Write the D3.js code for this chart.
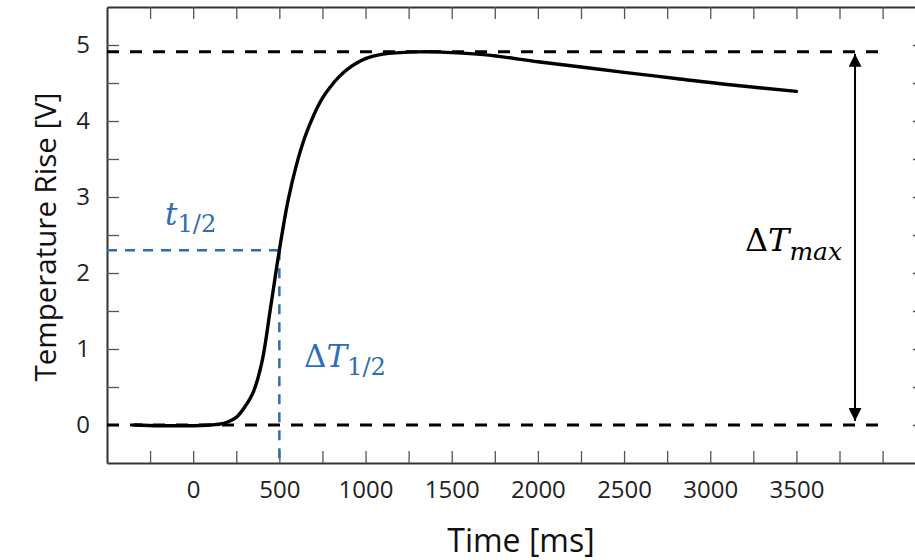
<!DOCTYPE html>
<html>
<head>
<meta charset="utf-8">
<script src="https://cdn.jsdelivr.net/npm/d3@7"></script>
<style>
  html, body { margin: 0; padding: 0; background: #fff; }
  svg { display: block; }
</style>
</head>
<body>
<svg id="chart" width="915" height="560"></svg>
<script>
// ---- data ----
const timeMs = [-340, -200, -100, 0, 100, 150, 200, 250, 300, 350, 400, 450, 500, 550, 600, 650, 700, 750, 800, 850, 900, 1000, 1100, 1200, 1300, 1400, 1500, 1700, 2000, 2250, 2500, 2800, 3100, 3500];
const tempV  = [0.0, -0.01, -0.01, -0.01, 0.0, 0.01, 0.04, 0.10, 0.24, 0.44, 0.84, 1.56, 2.30, 2.95, 3.43, 3.80, 4.08, 4.30, 4.46, 4.59, 4.69, 4.82, 4.88, 4.90, 4.91, 4.91, 4.90, 4.87, 4.78, 4.71, 4.64, 4.56, 4.48, 4.39];

const xTicks = [-250, 0, 250, 500, 750, 1000, 1250, 1500, 1750, 2000, 2250, 2500, 2750, 3000, 3250, 3500, 3750, 4000];
const xTickLabels = [0, 500, 1000, 1500, 2000, 2500, 3000, 3500];
const yTicks = [0, 0.5, 1, 1.5, 2, 2.5, 3, 3.5, 4, 4.5, 5];
const yTickLabels = [0, 1, 2, 3, 4, 5];

const xTitle = "Time [ms]";
const yTitle = "Temperature Rise [V]";

// reference levels and annotations (data units)
const maxLevel = 4.91;
const baseLevel = 0;
const refLineEnd = 4010;
const halfTime = 500;
const halfLevel = 2.30;
const arrowTime = 3840;

// ---- layout ----
const svg = d3.select("#chart");
const L = 107, R = 925, T = 7, B = 463;
const x = d3.scaleLinear().domain([-500, 4246]).range([L, R]);
const y = d3.scaleLinear().domain([-0.5, 5.5]).range([B, T]);

const axisColor = "#333";
const tickColor = "#555";
const blue = "#2E6DB6";
const labelFont = "'Open Sans', 'Noto Sans', sans-serif";
const mathFont = "'DejaVu Serif', 'Liberation Serif', serif";

function styleAxis(g) {
  g.select(".domain").attr("stroke", axisColor).attr("stroke-width", 2);
  g.selectAll(".tick line").attr("stroke", tickColor).attr("stroke-width", 1.3);
  g.selectAll(".tick text").attr("fill", "#222").style("font-family", labelFont).style("font-size", "24px");
}

// bottom axis (ticks inward)
svg.append("g").attr("transform", `translate(0,${B})`)
  .call(d3.axisBottom(x).tickValues(xTicks).tickSizeInner(-12).tickSizeOuter(0).tickPadding(18)
    .tickFormat(d => xTickLabels.includes(d) ? String(d) : ""))
  .call(styleAxis);

// top axis
svg.append("g").attr("transform", `translate(0,${T})`)
  .call(d3.axisTop(x).tickValues(xTicks).tickSizeInner(-12).tickSizeOuter(0).tickFormat(""))
  .call(styleAxis);

// left axis
svg.append("g").attr("transform", `translate(${L},0)`)
  .call(d3.axisLeft(y).tickValues(yTicks).tickSizeInner(-12).tickSizeOuter(0).tickPadding(17)
    .tickFormat(d => yTickLabels.includes(d) ? String(d) : ""))
  .call(styleAxis);

// right axis (mostly outside the view)
svg.append("g").attr("transform", `translate(${R},0)`)
  .call(d3.axisRight(y).tickValues(yTicks).tickSizeInner(-12).tickSizeOuter(0).tickFormat(""))
  .call(styleAxis);

// axis titles
svg.append("text").attr("x", 521).attr("y", 552)
  .attr("text-anchor", "middle").attr("fill", "#111")
  .style("font-family", labelFont).style("font-size", "32px").text(xTitle);

svg.append("text").attr("transform", "translate(44,237) rotate(-90)")
  .attr("text-anchor", "middle").attr("dominant-baseline", "central").attr("fill", "#111")
  .style("font-family", labelFont).style("font-size", "29.5px").text(yTitle);

// black dashed reference lines
[maxLevel, baseLevel].forEach(v => {
  svg.append("line")
    .attr("x1", x(-500)).attr("x2", x(refLineEnd))
    .attr("y1", y(v)).attr("y2", y(v))
    .attr("stroke", "#000").attr("stroke-width", 3).attr("stroke-dasharray", "12,11");
});

// blue dashed half lines
svg.append("line")
  .attr("x1", x(-500)).attr("x2", x(halfTime))
  .attr("y1", y(halfLevel)).attr("y2", y(halfLevel))
  .attr("stroke", blue).attr("stroke-width", 2.5).attr("stroke-dasharray", "10,8");
svg.append("line")
  .attr("x1", x(halfTime)).attr("x2", x(halfTime))
  .attr("y1", y(halfLevel)).attr("y2", y(-0.5))
  .attr("stroke", blue).attr("stroke-width", 2.5).attr("stroke-dasharray", "10,8");

// curve
const pts = timeMs.map((t, i) => [t, tempV[i]]);
svg.append("path").datum(pts)
  .attr("fill", "none").attr("stroke", "#000").attr("stroke-width", 3.4)
  .attr("stroke-linecap", "round").attr("stroke-linejoin", "round")
  .attr("d", d3.line().x(d => x(d[0])).y(d => y(d[1])).curve(d3.curveCatmullRom.alpha(0.5)));

// double arrow
const defs = svg.append("defs");
defs.append("marker").attr("id", "ah").attr("viewBox", "0 0 12 12")
  .attr("refX", 12).attr("refY", 6).attr("markerWidth", 13).attr("markerHeight", 13)
  .attr("markerUnits", "userSpaceOnUse").attr("orient", "auto-start-reverse")
  .append("path").attr("d", "M0,0 L12,6 L0,12 Z").attr("fill", "#000");
svg.append("line")
  .attr("x1", x(arrowTime)).attr("x2", x(arrowTime))
  .attr("y1", y(maxLevel) + 2).attr("y2", y(baseLevel) - 4)
  .attr("stroke", "#000").attr("stroke-width", 2)
  .attr("marker-start", "url(#ah)").attr("marker-end", "url(#ah)");

// math labels
function mathLabel(xp, yp, parts, color, size) {
  const t = svg.append("text").attr("x", xp).attr("y", yp).attr("fill", color)
    .style("font-family", mathFont).style("font-size", size + "px");
  parts.forEach(p => {
    const s = t.append("tspan").text(p.text);
    if (p.italic) s.style("font-style", "italic");
    if (p.sub) s.style("font-size", (size * 0.78) + "px").attr("dy", p.dy);
  });
}
mathLabel(165, 225, [{text: "t", italic: true}, {text: "1/2", sub: true, dy: 7}], blue, 31);
mathLabel(304, 367, [{text: "Δ"}, {text: "T", italic: true}, {text: "1/2", sub: true, dy: 8}], blue, 31);
mathLabel(745, 251, [{text: "Δ"}, {text: "T", italic: true}, {text: "max", italic: true, sub: true, dy: 9}], "#000", 32);
</script>
</body>
</html>
